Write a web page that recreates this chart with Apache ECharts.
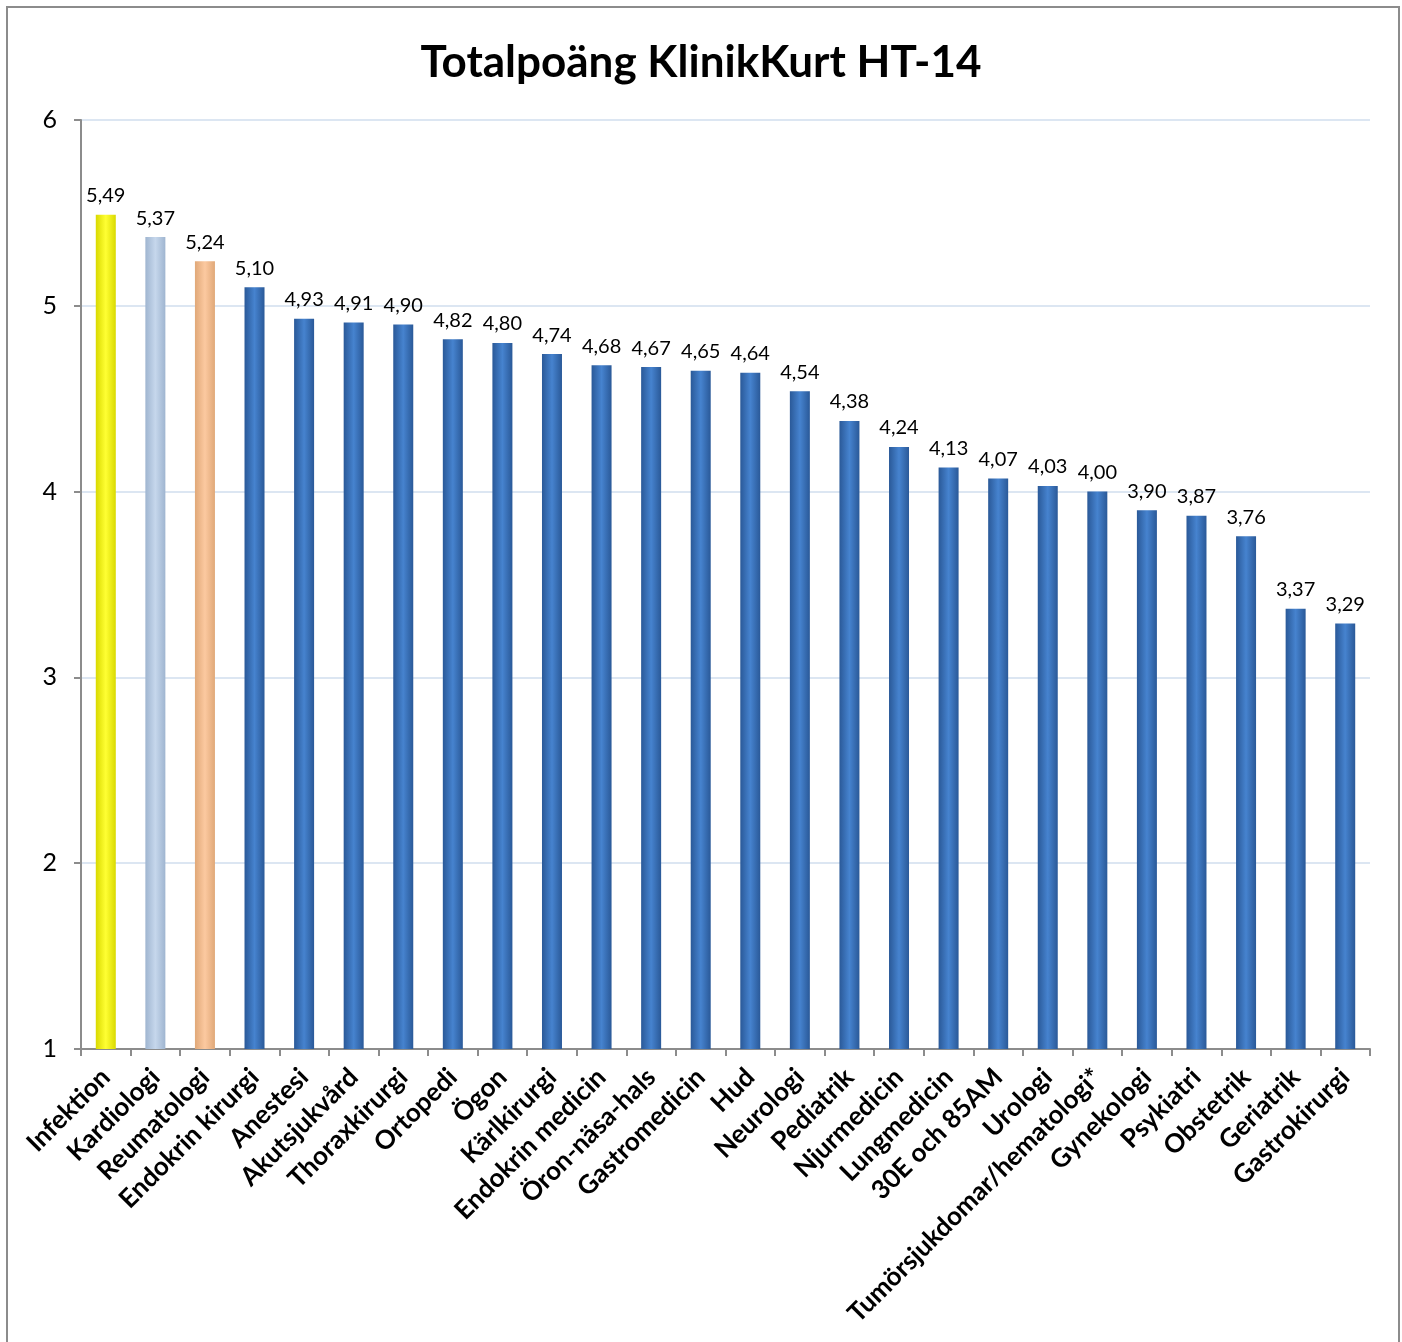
<!DOCTYPE html>
<html><head><meta charset="utf-8">
<script src="https://cdn.jsdelivr.net/npm/echarts@6/dist/echarts.min.js"></script>
<style>html,body{margin:0;padding:0;background:#fff}#c{width:1402px;height:1342px}</style>
</head><body><div id="c"></div>
<script>
const titleText = 'Totalpoäng KlinikKurt HT-14';
const categories = ['Infektion','Kardiologi','Reumatologi','Endokrin kirurgi','Anestesi','Akutsjukvård','Thoraxkirurgi','Ortopedi','Ögon','Kärlkirurgi','Endokrin medicin','Öron-näsa-hals','Gastromedicin','Hud','Neurologi','Pediatrik','Njurmedicin','Lungmedicin','30E och 85AM','Urologi','Tumörsjukdomar/hematologi*','Gynekologi','Psykiatri','Obstetrik','Geriatrik','Gastrokirurgi'];
const values = [5.49,5.37,5.24,5.10,4.93,4.91,4.90,4.82,4.80,4.74,4.68,4.67,4.65,4.64,4.54,4.38,4.24,4.13,4.07,4.03,4.00,3.90,3.87,3.76,3.37,3.29];
const yTicks = [1,2,3,4,5,6];

function grad(edge, mid){
  return new echarts.graphic.LinearGradient(0,0,1,0,[
    {offset:0,color:edge},{offset:0.5,color:mid},{offset:1,color:edge}]);
}
const specialColors = {0: grad('#d9d900','#ffff33'), 1: grad('#9fb5d0','#c6d7ec'), 2: grad('#e0a878','#fcc9a0')};
const blue = grad('#2a5998','#4683cf');

const chart = echarts.init(document.getElementById('c'));
chart.setOption({
  animation:false,
  textStyle:{fontFamily:'Lato, "Open Sans", sans-serif'},
  title:{text:titleText,left:'center',top:36,textStyle:{fontSize:44,fontWeight:'bold',color:'#000',fontFamily:'Lato, "Open Sans", sans-serif'}},
  graphic:[{type:'rect',shape:{x:7,y:7,width:1392,height:1400},style:{fill:'none',stroke:'#8c8c8c',lineWidth:2},silent:true,z:-1}],
  grid:{left:81,right:32,top:120,bottom:293,containLabel:false},
  xAxis:{type:'category',data:categories,
    axisLine:{lineStyle:{color:'#8c8c8c',width:2}},
    axisTick:{show:true,alignWithLabel:false,length:7,lineStyle:{color:'#8c8c8c',width:2}},
    axisLabel:{rotate:45,interval:0,fontSize:26,fontWeight:'bold',color:'#000',margin:24}},
  yAxis:{type:'value',min:yTicks[0],max:yTicks[yTicks.length-1],interval:1,
    axisLine:{show:true,lineStyle:{color:'#8c8c8c',width:2}},
    axisTick:{show:true,length:7,lineStyle:{color:'#8c8c8c',width:2}},
    axisLabel:{fontSize:25,color:'#000',margin:24},
    splitLine:{lineStyle:{color:'#dce6f2',width:2}}},
  series:[{type:'bar',data:values.map((v,i)=>({value:v,itemStyle:{color:specialColors[i]||blue}})),
    barWidth:20,
    label:{show:true,position:'top',distance:9,fontSize:20,color:'#000',
      formatter:p=>p.value.toFixed(2).replace('.',',')}}]
});
</script></body></html>
